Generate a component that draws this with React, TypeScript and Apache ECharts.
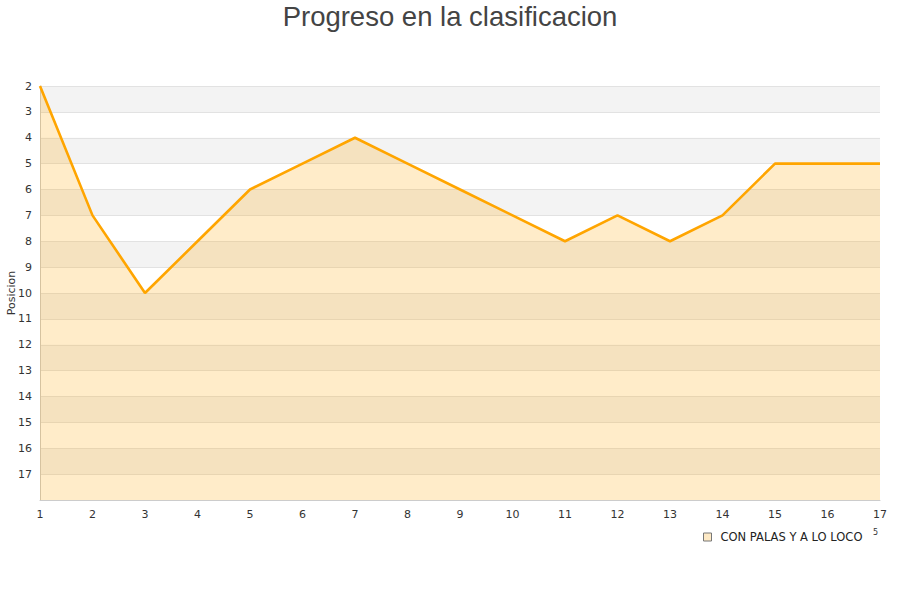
import React, { useEffect, useRef } from "react";
import * as echarts from "echarts";

const jornadas = ["1","2","3","4","5","6","7","8","9","10","11","12","13","14","15","16","17"];
const posiciones = [2, 7, 10, 8, 6, 5, 4, 5, 6, 7, 8, 7, 8, 7, 5, 5, 5];
const seriesName = "CON PALAS Y A LO LOCO";
const titleText = "Progreso en la clasificacion";
const yName = "Posicion";

export default function App() {
  const ref = useRef<HTMLDivElement>(null);
  useEffect(() => {
    const chart = echarts.init(ref.current!, null, { renderer: "svg" });
    chart.setOption({
      animation: false,
      title: {
        text: titleText,
        left: "center",
        top: -3,
        textStyle: { fontFamily: "Liberation Sans", fontSize: 27.5, fontWeight: "normal", color: "#444" },
      },
      legend: {
        data: [seriesName],
        left: 698,
        top: 526,
        icon: "rect",
        itemWidth: 8,
        itemHeight: 8,
        itemGap: 5,
        textStyle: { fontFamily: "DejaVu Sans", fontSize: 11.5, color: "#222", padding: [0, 0, 0, 4] },
        itemStyle: { color: "#fde9c5", borderColor: "#777", borderWidth: 1 },
      },
      grid: { left: 40, right: 20, top: 86, bottom: 100, containLabel: false, outerBoundsMode: "none" },
      xAxis: {
        type: "category",
        data: jornadas,
        boundaryGap: false,
        axisLine: { lineStyle: { color: "#ccc" } },
        axisTick: { show: false },
        axisLabel: { fontFamily: "DejaVu Sans", fontSize: 11, color: "#333", margin: 9 },
      },
      yAxis: {
        type: "value",
        inverse: true,
        min: 2,
        max: 18,
        interval: 1,
        axisLine: { show: true, lineStyle: { color: "#ccc" } },
        axisTick: { show: false },
        axisLabel: {
          fontFamily: "DejaVu Sans",
          fontSize: 11,
          color: "#333",
          margin: 8,
          formatter: (v: number) => (v === 18 ? "" : String(v)),
        },
        splitLine: { show: true, lineStyle: { color: "#e2e2e2" } },
        splitArea: { show: true, areaStyle: { color: ["#f3f3f3", "#ffffff"] } },
      },
      series: [
        {
          name: seriesName,
          type: "line",
          data: posiciones,
          symbol: "none",
          lineStyle: { color: "#ffa500", width: 2.6 },
          itemStyle: { color: "#ffa500" },
          areaStyle: { color: "#ffa500", opacity: 0.21, origin: "end" },
        },
      ],
      graphic: [
        {
          type: "text",
          x: 11,
          y: 293,
          rotation: Math.PI / 2,
          style: {
            text: yName,
            fontSize: 11,
            fill: "#333",
            fontFamily: "DejaVu Sans",
            align: "center",
            verticalAlign: "middle",
          },
        },
        {
          type: "text",
          left: 873,
          top: 528,
          style: { text: "5", fontSize: 8, fill: "#333", fontFamily: "DejaVu Sans" },
        },
      ],
    });
    return () => chart.dispose();
  }, []);
  return <div ref={ref} style={{ width: 900, height: 600, position: "absolute", left: 0, top: 0 }} />;
}
